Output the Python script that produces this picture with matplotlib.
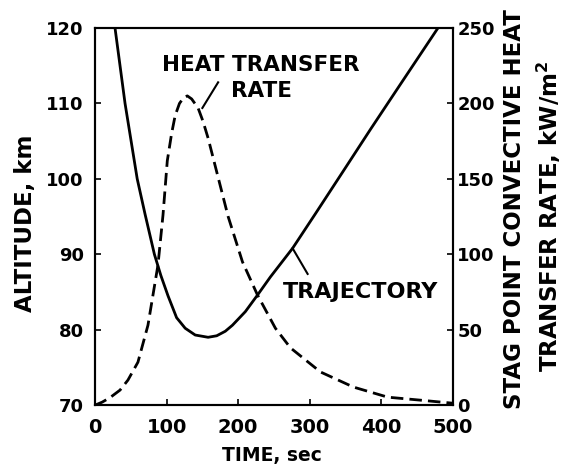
import matplotlib
matplotlib.use("Agg")
import matplotlib.pyplot as plt

""" Data read off the reference """

# trajectory: time (sec) vs altitude (km)
traj_t = [28, 42, 59, 70, 83, 92, 102, 114, 126, 140, 158, 170, 182, 192, 210, 227, 245, 276, 308, 350, 385, 427, 479]
traj_alt = [120, 110, 100, 95.3, 90, 87.2, 84.5, 81.6, 80.2, 79.3, 79.0, 79.2, 79.8, 80.6, 82.4, 84.6, 87, 90.8, 95.4, 101.5, 106.6, 112.6, 120]

# stag point convective heat transfer rate (kW/m^2)
heat_t = [0, 10, 21, 35, 46, 60, 74, 88, 95, 101, 107, 112, 118, 124, 129, 135, 144, 151, 158, 172, 186, 206, 227, 252, 273, 315, 361, 409, 455, 500]
heat_q = [0, 2, 5, 10, 16.6, 28.5, 53, 93, 126, 162, 180, 192, 200, 204, 205, 203, 197, 188, 177, 151, 125, 95, 73, 51, 38, 22, 12, 5.3, 3.3, 1.3]

time_ticks = [0, 100, 200, 300, 400, 500]
alt_ticks = [70, 80, 90, 100, 110, 120]
heat_ticks = [0, 50, 100, 150, 200, 250]

""" Plot """

plt.rcParams['font.family'] = ['DejaVu Sans']
plt.rcParams['font.weight'] = 'bold'

fig = plt.figure(figsize=(5.62, 4.75), dpi=100)
ax = fig.add_axes([0.169, 0.147, 0.637, 0.794])
ax2 = ax.twinx()

ax.plot(traj_t, traj_alt, color='black', lw=2.0, solid_joinstyle='round')
ax2.plot(heat_t, heat_q, color='black', lw=2.0, dashes=(4.5, 2.2))

ax.set_xlim(0, 500)
ax.set_ylim(70, 120)
ax2.set_ylim(0, 250)
ax.set_xticks(time_ticks)
ax.set_yticks(alt_ticks)
ax2.set_yticks(heat_ticks)

for a in (ax, ax2):
    a.tick_params(direction='in', length=4, width=1.2, labelsize=13)
    for s in a.spines.values():
        s.set_linewidth(1.5)
ax.tick_params(axis='x', pad=9, labelsize=14)
ax.tick_params(axis='y', pad=8)
ax2.tick_params(axis='y', pad=3)

fig.text(0.484, 0.042, "TIME, sec", ha='center', va='center', fontsize=13.5, fontweight='bold')
fig.text(0.045, 0.53, "ALTITUDE, km", rotation=90, ha='center', va='center',
         fontsize=16.5, fontweight='bold')
fig.text(0.915, 0.56, "STAG POINT CONVECTIVE HEAT", rotation=90, ha='center', va='center',
         fontsize=16.5, fontweight='bold')
fig.text(0.976, 0.545, "TRANSFER RATE, kW/m$^\\mathbf{2}$", rotation=90, ha='center', va='center',
         fontsize=16.5, fontweight='bold')

# annotations
ax.text(232, 115.1, "HEAT TRANSFER", ha='center', va='center', fontsize=15.5, fontweight='bold')
ax.text(232, 111.7, "RATE", ha='center', va='center', fontsize=15.5, fontweight='bold')
ax.plot([150, 172], [109.4, 112.8], color='black', lw=1.5)

ax.text(371, 85, "TRAJECTORY", ha='center', va='center', fontsize=16, fontweight='bold')
ax.plot([276, 297], [90.8, 87.4], color='black', lw=1.5)

fig.savefig("out.png", dpi=100)
